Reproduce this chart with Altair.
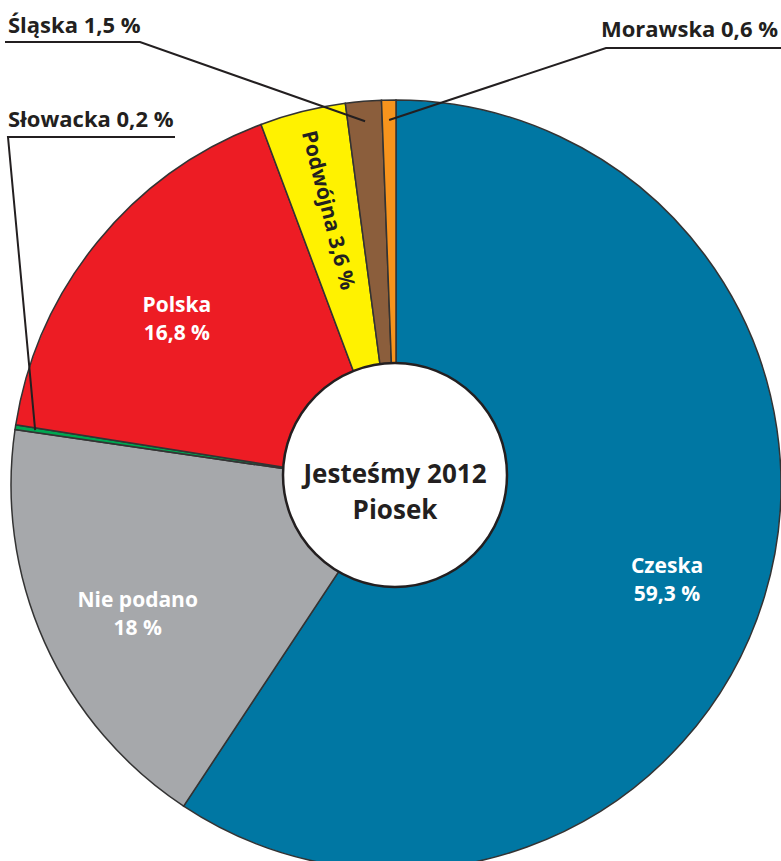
import altair as alt
import numpy as np
import pandas as pd

# ---- data ----
categories = ["Czeska", "Nie podano", "Słowacka", "Polska", "Podwójna", "Śląska", "Morawska"]
values = [59.3, 18.0, 0.2, 16.8, 3.6, 1.5, 0.6]
value_labels = ["59,3 %", "18 %", "0,2 %", "16,8 %", "3,6 %", "1,5 %", "0,6 %"]
colors = ["#0077A3", "#A6A8AB", "#00A651", "#ED1C24", "#FFF200", "#8B5E3C", "#F7941D"]
inside_names = ["Czeska", "Nie podano", "Polska"]
rotated_names = ["Podwójna"]
callout_names = ["Śląska", "Morawska", "Słowacka"]
center_title = "Jesteśmy 2012\nPiosek"

# ---- layout ----
W, H = 781, 861
CX, CY, R = 396, 485, 385
HOLE_X, HOLE_Y, HOLE_R = 395, 475, 112
LABEL_R = 283
LEADER_R = 365
FONT = "Open Sans"
INK = "#231f20"

# callout anchors: (text x, text baseline y, align, underline outer x, knot x, underline y)
callout_layout = {
    "Śląska":   (8, 33, "left", 5, 140, 42),
    "Morawska": (778, 37, "right", 781, 606, 48),
    "Słowacka": (8, 127, "left", 175, 8, 137),
}

df = pd.DataFrame({"name": categories, "value": values, "label": value_labels,
                   "idx": range(len(categories))})
cum = np.cumsum(values)
total = cum[-1]
start = cum - np.array(values)
mid_deg = (start + np.array(values) / 2) / total * 360.0
df["mid_deg"] = mid_deg
df["inner"] = [f"{n}\n{l}" if n in inside_names else "" for n, l in zip(categories, value_labels)]
df["rot"] = [f"{n} {l}" if n in rotated_names else "" for n, l in zip(categories, value_labels)]
rot_angle = float(df.loc[df["name"].isin(rotated_names), "mid_deg"].iloc[0] - 270)

# leader lines
line_rows = []
text_rows = []
for n in callout_names:
    tx, ty, al, ux, kx, uy = callout_layout[n]
    a = np.deg2rad(float(df.loc[df["name"] == n, "mid_deg"].iloc[0]))
    px = CX + LEADER_R * np.sin(a)
    py = CY - LEADER_R * np.cos(a)
    line_rows += [
        {"name": n, "o": 0, "x": ux, "y": uy},
        {"name": n, "o": 1, "x": kx, "y": uy},
        {"name": n, "o": 2, "x": px, "y": py},
    ]
    lab = df.loc[df["name"] == n, "label"].iloc[0]
    text_rows.append({"name": n, "text": f"{n} {lab}", "x": tx, "y": ty, "align": al})
lines_df = pd.DataFrame(line_rows)
texts_df = pd.DataFrame(text_rows)

xs = alt.Scale(domain=[0, W], range=[0, W])
ys = alt.Scale(domain=[0, H], range=[0, H])

theta = alt.Theta("value:Q", stack=True)
order = alt.Order("idx:Q")

pie = alt.Chart(df).mark_arc(x=CX, y=CY, outerRadius=R, stroke="#333333",
                             strokeWidth=1.5).encode(
    theta=theta,
    order=order,
    color=alt.Color("name:N", scale=alt.Scale(domain=categories, range=colors), legend=None),
)

inner_text = alt.Chart(df).mark_text(
    x=CX, y=CY, radius=LABEL_R, font=FONT, fontWeight="bold", fontSize=21,
    lineBreak="\n", lineHeight=28, color="white", align="center", baseline="middle"
).encode(theta=theta, order=order, text="inner:N")

rot_text = alt.Chart(df).mark_text(
    x=CX, y=CY, radius=LABEL_R, font=FONT, fontWeight="bold", fontSize=21,
    color=INK, align="center", baseline="middle", angle=rot_angle
).encode(theta=theta, order=order, text="rot:N")

hole = alt.Chart(pd.DataFrame({"a": [0]})).mark_arc(
    x=HOLE_X, y=HOLE_Y, outerRadius=HOLE_R, fill="white", stroke=INK, strokeWidth=2.5
).encode(theta=alt.value(0), theta2=alt.value(2 * np.pi))

center_text = alt.Chart(pd.DataFrame({"t": [center_title]})).mark_text(
    x=HOLE_X, y=HOLE_Y, font=FONT, fontWeight="bold", fontSize=26, lineBreak="\n",
    lineHeight=36, color=INK, align="center", baseline="middle"
).encode(text="t:N")

leaders = alt.Chart(lines_df).mark_line(color=INK, strokeWidth=2).encode(
    x=alt.X("x:Q", scale=xs, axis=None),
    y=alt.Y("y:Q", scale=ys, axis=None),
    detail="name:N",
    order="o:Q",
)

callout_parts = []
for al in ["left", "right"]:
    callout_parts.append(
        alt.Chart(texts_df[texts_df["align"] == al]).mark_text(
            font=FONT, fontWeight="bold", fontSize=22, color=INK, align=al,
            baseline="alphabetic"
        ).encode(
            x=alt.X("x:Q", scale=xs, axis=None),
            y=alt.Y("y:Q", scale=ys, axis=None),
            text="text:N",
        )
    )

chart = alt.layer(pie, inner_text, rot_text, leaders, hole, center_text, *callout_parts).properties(
    width=W, height=H, padding=0, autosize=alt.AutoSizeParams(type="none"),
    background="white"
).configure_view(stroke=None)

chart.save("out.html", embed_options={"renderer": "svg", "actions": False})
